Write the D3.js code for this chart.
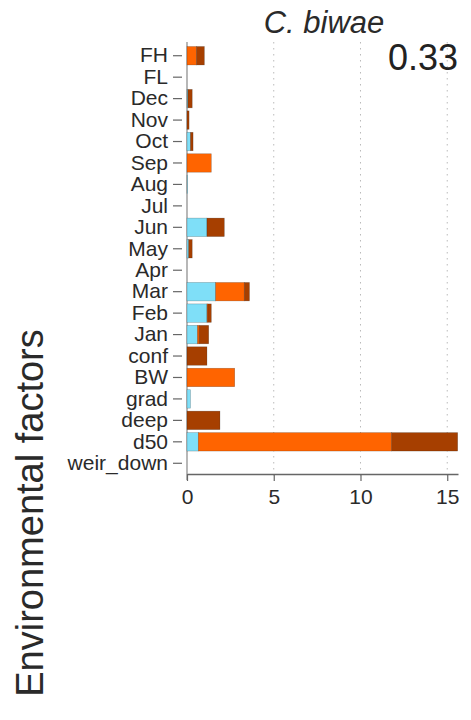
<!DOCTYPE html>
<html>
<head>
<meta charset="utf-8">
<script src="https://cdn.jsdelivr.net/npm/d3@7"></script>
<style>
  html, body { margin: 0; padding: 0; background: #fff; }
  svg { display: block; font-family: "Liberation Sans", Arial, sans-serif; }
</style>
</head>
<body>
<svg id="chart" width="471" height="720"></svg>
<script>
// Environmental factors (top to bottom)
const categories = ["FH","FL","Dec","Nov","Oct","Sep","Aug","Jul","Jun","May","Apr",
                    "Mar","Feb","Jan","conf","BW","grad","deep","d50","weir_down"];
// Stacked contributions of each factor, one array per component
const blueValues   = [0, 0, 0.05, 0, 0.2, 0, 0.03, 0, 1.15, 0.1, 0, 1.65, 1.15, 0.6, 0, 0, 0.2, 0, 0.65, 0];
const orangeValues = [0.55, 0, 0, 0, 0, 1.4, 0, 0, 0, 0, 0, 1.65, 0.05, 0.1, 0, 2.75, 0, 0, 11.15, 0];
const brownValues  = [0.45, 0, 0.25, 0.12, 0.15, 0, 0, 0, 1.0, 0.2, 0, 0.3, 0.2, 0.55, 1.15, 0, 0, 1.9, 3.8, 0];
const xTicks = [0, 5, 10, 15];
const xMax = 15.62;
const speciesName = "C. biwae";
const scoreLabel = "0.33";
const yTitle = "Environmental factors";

const seriesKeys = ["blue", "orange", "brown"];
const seriesColors = { blue: "#7fdff8", orange: "#ff6400", brown: "#a63f00" };

const rows = categories.map((c, i) => ({
  factor: c, blue: blueValues[i], orange: orangeValues[i], brown: brownValues[i]
}));
const stacked = d3.stack().keys(seriesKeys)(rows);

const svg = d3.select("#chart");

const x = d3.scaleLinear().domain([0, xMax]).range([187, 458]);
const y = d3.scaleBand().domain(categories).range([45, 474]).paddingInner(0.14).paddingOuter(0.07);

const plotTop = 42, plotBottom = 480;

// dotted reference lines
svg.append("g").selectAll("line")
  .data(xTicks.filter(t => t > 0))
  .join("line")
  .attr("x1", d => x(d)).attr("x2", d => x(d))
  .attr("y1", plotTop).attr("y2", plotBottom)
  .attr("stroke", "#bbb").attr("stroke-width", 1)
  .attr("stroke-dasharray", "1.5,4.5");

// zero line
svg.append("line")
  .attr("x1", x(0)).attr("x2", x(0))
  .attr("y1", plotTop).attr("y2", plotBottom)
  .attr("stroke", "#888").attr("stroke-width", 1.2);

// stacked bars
svg.append("g").selectAll("g")
  .data(stacked)
  .join("g")
  .attr("fill", d => seriesColors[d.key])
  .selectAll("rect")
  .data(d => d.filter(s => s[1] - s[0] > 0))
  .join("rect")
  .attr("x", d => x(d[0]))
  .attr("width", d => x(d[1]) - x(d[0]))
  .attr("y", d => y(d.data.factor))
  .attr("height", y.bandwidth())
  .attr("stroke", "rgba(0,0,0,0.3)")
  .attr("stroke-width", 0.6);

// y axis labels
const yAxis = svg.append("g")
  .attr("transform", "translate(182,0)")
  .call(d3.axisLeft(y).tickSize(9).tickPadding(5));
yAxis.select(".domain").remove();
yAxis.selectAll(".tick line").attr("stroke", "#666").attr("stroke-width", 1.2);
yAxis.selectAll(".tick text")
  .attr("font-size", 21).attr("fill", "#2a2a2a")
  .attr("font-family", "'Liberation Sans', Arial, sans-serif");

// x axis
const xAxis = svg.append("g")
  .attr("transform", "translate(0,474)")
  .call(d3.axisBottom(x).tickValues(xTicks).tickSize(7).tickPadding(8).tickSizeOuter(0));
xAxis.select(".domain").attr("stroke", "#666").attr("stroke-width", 1.4);
xAxis.selectAll(".tick line").attr("stroke", "#666").attr("stroke-width", 1.2);
xAxis.selectAll(".tick text")
  .attr("font-size", 21).attr("fill", "#2a2a2a")
  .attr("font-family", "'Liberation Sans', Arial, sans-serif");

// title and score
svg.append("text")
  .attr("x", 324).attr("y", 33)
  .attr("text-anchor", "middle")
  .attr("font-size", 31).attr("font-style", "italic").attr("fill", "#2a2a2a")
  .text(speciesName);

svg.append("text")
  .attr("x", 458).attr("y", 70)
  .attr("text-anchor", "end")
  .attr("font-size", 36).attr("fill", "#222")
  .text(scoreLabel);

// y axis title
svg.append("text")
  .attr("transform", "translate(43,513) rotate(-90)")
  .attr("text-anchor", "middle")
  .attr("font-size", 38).attr("fill", "#2a2a2a")
  .text(yTitle);
</script>
</body>
</html>
